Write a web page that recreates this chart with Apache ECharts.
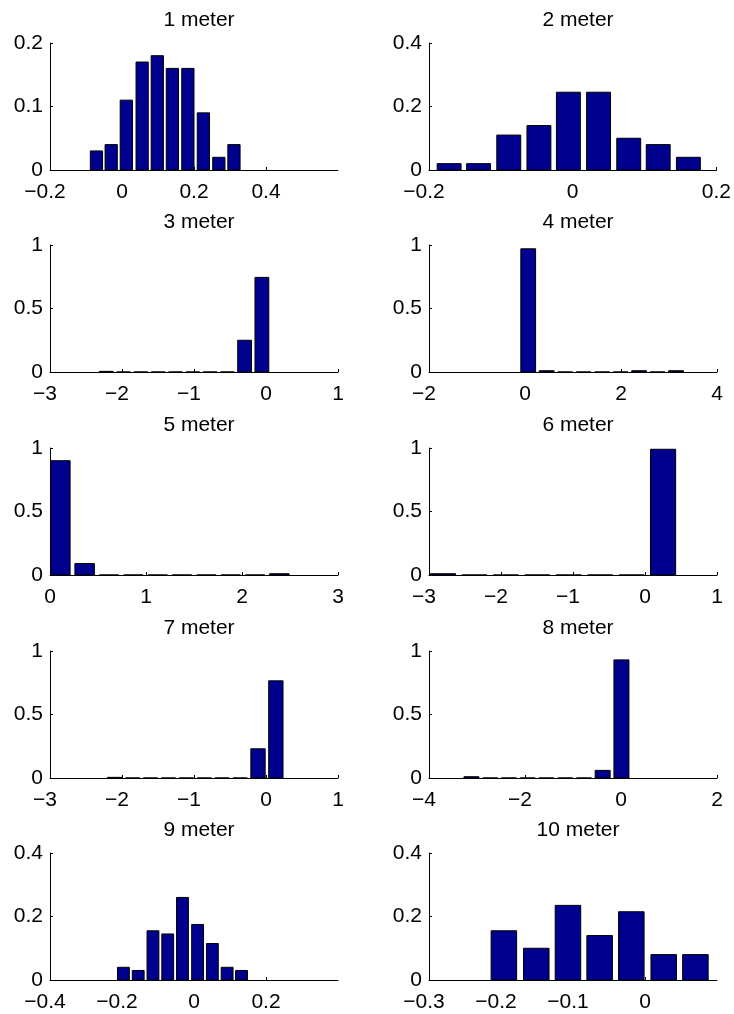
<!DOCTYPE html>
<html>
<head>
<meta charset="utf-8">
<style>
html,body{margin:0;padding:0;background:#fff;}
#chart{width:734px;height:1014px;}
</style>
<script src="https://cdn.jsdelivr.net/npm/echarts@6/dist/echarts.min.js"></script>
</head>
<body>
<div id="chart"></div>
<script>
// ---- data ----
const titles = ['1 meter','2 meter','3 meter','4 meter','5 meter','6 meter','7 meter','8 meter','9 meter','10 meter'];

const centers1 = [-0.071, -0.030, 0.012, 0.056, 0.098, 0.140, 0.183, 0.226, 0.269, 0.311];
const values1  = [0.03, 0.04, 0.11, 0.17, 0.18, 0.16, 0.16, 0.09, 0.02, 0.04];

const centers2 = [-0.172, -0.131, -0.089, -0.047, -0.006, 0.036, 0.078, 0.119, 0.161];
const values2  = [0.02, 0.02, 0.11, 0.14, 0.245, 0.245, 0.10, 0.08, 0.04];

const centers3 = [-2.218, -1.978, -1.738, -1.497, -1.257, -1.017, -0.777, -0.537, -0.297, -0.057];
const values3  = [0.005, 0, 0, 0, 0, 0, 0, 0, 0.25, 0.745];

const centers4 = [0.067, 0.452, 0.837, 1.222, 1.607, 1.992, 2.377, 2.762, 3.147];
const values4  = [0.97, 0.01, 0, 0, 0, 0, 0.01, 0, 0.01];

const centers5 = [0.108, 0.361, 0.615, 0.868, 1.122, 1.375, 1.629, 1.882, 2.136, 2.389];
const values5  = [0.90, 0.09, 0, 0, 0, 0, 0, 0, 0, 0.01];

const centers6 = [-2.806, -2.369, -1.933, -1.496, -1.059, -0.623, -0.186, 0.251];
const values6  = [0.01, 0, 0, 0, 0, 0, 0, 0.99];

const centers7 = [-2.101, -1.852, -1.604, -1.355, -1.106, -0.858, -0.609, -0.360, -0.111, 0.137];
const values7  = [0.005, 0, 0, 0, 0, 0, 0, 0, 0.23, 0.765];

const centers8 = [-3.116, -2.725, -2.335, -1.944, -1.554, -1.163, -0.772, -0.382, 0.009];
const values8  = [0.01, 0, 0, 0, 0, 0, 0, 0.06, 0.93];

const centers9 = [-0.196, -0.155, -0.114, -0.073, -0.032, 0.010, 0.051, 0.092, 0.132];
const values9  = [0.04, 0.03, 0.155, 0.145, 0.26, 0.175, 0.115, 0.04, 0.03];

const centers10 = [-0.196, -0.151, -0.107, -0.063, -0.019, 0.026, 0.070];
const values10  = [0.155, 0.10, 0.235, 0.14, 0.215, 0.08, 0.08];

const binWidths = [0.0425, 0.0416, 0.2401, 0.385, 0.2535, 0.4367, 0.2487, 0.3906, 0.0411, 0.0443];

const xRanges = [[-0.2,0.6],[-0.2,0.2],[-3,1],[-2,4],[0,3],[-3,1],[-3,1],[-4,2],[-0.4,0.4],[-0.3,0.1]];
const xTicks = [
  [-0.2,0,0.2,0.4],[-0.2,0,0.2],[-3,-2,-1,0,1],[-2,0,2,4],[0,1,2,3],
  [-3,-2,-1,0,1],[-3,-2,-1,0,1],[-4,-2,0,2],[-0.4,-0.2,0,0.2],[-0.3,-0.2,-0.1,0]
];
const yMax = [0.2,0.4,1,1,1,1,1,1,0.4,0.4];
const yTicks = [
  [0,0.1,0.2],[0,0.2,0.4],[0,0.5,1],[0,0.5,1],[0,0.5,1],
  [0,0.5,1],[0,0.5,1],[0,0.5,1],[0,0.2,0.4],[0,0.2,0.4]
];

const allCenters = [centers1,centers2,centers3,centers4,centers5,centers6,centers7,centers8,centers9,centers10];
const allValues  = [values1,values2,values3,values4,values5,values6,values7,values8,values9,values10];

// ---- layout ----
const colLeft = [50, 429];
const gridW = 288;
const rowTop = [43, 245, 448, 651, 853];
const gridH = 127;
const FONT = 'Liberation Sans, Arial, Helvetica, sans-serif';
const FS = 21;

const fmt = v => String(v).replace('-', '\u2212');
const fmtX = v => (v < 0 ? '{n|' + fmt(v) + '}' : '{p|' + fmt(v) + '}');
const richX = {
  n: {fontFamily: FONT, fontSize: FS, color: '#000', padding: [0, 10, 0, 0]},
  p: {fontFamily: FONT, fontSize: FS, color: '#000'}
};

const grids = [], xAxes = [], yAxes = [], series = [], titleOpts = [];
for (let i = 0; i < 10; i++) {
  const col = i % 2, row = Math.floor(i / 2);
  const left = colLeft[col], top = rowTop[row];
  grids.push({left: left, top: top, width: gridW, height: gridH, containLabel: false});
  titleOpts.push({
    text: titles[i], left: left + gridW / 2, top: top - 38, textAlign: 'center',
    textStyle: {fontFamily: FONT, fontSize: FS, fontWeight: 'normal', color: '#000'}
  });
  xAxes.push({
    type: 'value', gridIndex: i, min: xRanges[i][0], max: xRanges[i][1],
    axisLine: {onZero: false, lineStyle: {color: '#000', width: 1}},
    axisTick: {inside: true, length: 3, customValues: xTicks[i], lineStyle: {color: '#000'}},
    axisLabel: {customValues: xTicks[i], formatter: fmtX, rich: richX, margin: 12, color: '#000', fontFamily: FONT, fontSize: FS},
    splitLine: {show: false}
  });
  yAxes.push({
    type: 'value', gridIndex: i, min: 0, max: yMax[i],
    axisLine: {show: true, onZero: false, lineStyle: {color: '#000', width: 1}},
    axisTick: {show: true, inside: true, length: 3, customValues: yTicks[i], lineStyle: {color: '#000'}},
    axisLabel: {customValues: yTicks[i], formatter: fmt, margin: 7, color: '#000', fontFamily: FONT, fontSize: FS},
    splitLine: {show: false}
  });
  const bw = binWidths[i] * 0.8;
  series.push({
    type: 'custom', xAxisIndex: i, yAxisIndex: i,
    data: allCenters[i].map((c, k) => [c, allValues[i][k]]),
    renderItem: function (params, api) {
      const c = api.value(0), v = api.value(1);
      const p0 = api.coord([c - bw / 2, v]);
      const p1 = api.coord([c + bw / 2, 0]);
      return {
        type: 'rect',
        shape: {x: p0[0], y: p0[1], width: p1[0] - p0[0], height: p1[1] - p0[1]},
        style: {fill: '#00008F', stroke: '#000', lineWidth: 1}
      };
    },
    z: 3
  });
}

const chart = echarts.init(document.getElementById('chart'), null, {renderer: 'canvas'});
chart.setOption({
  backgroundColor: '#fff',
  animation: false,
  title: titleOpts,
  grid: grids,
  xAxis: xAxes,
  yAxis: yAxes,
  series: series
});
</script>
</body>
</html>
